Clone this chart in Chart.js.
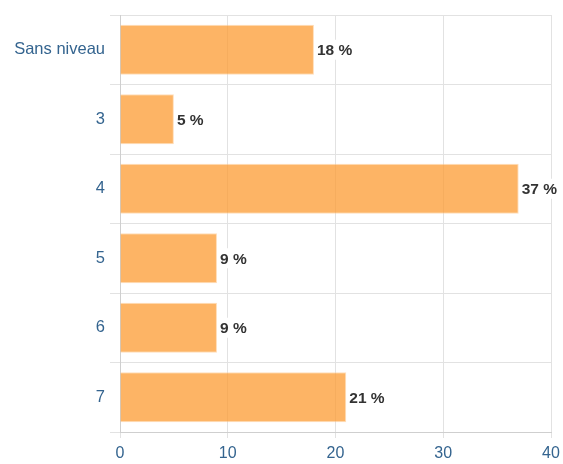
<!DOCTYPE html>
<html>
<head>
<meta charset="utf-8">
<script src="https://cdn.jsdelivr.net/npm/chart.js@4"></script>
<style>
  html, body { margin: 0; padding: 0; background: #fff; }
  #wrap { width: 563px; height: 464px; position: relative; }
</style>
</head>
<body>
<div id="wrap"><canvas id="myChart"></canvas></div>
<script>
const categories = ['Sans niveau', '3', '4', '5', '6', '7'];
const values = [18, 5, 37, 9, 9, 21];
const xTicks = [0, 10, 20, 30, 40];

// draws "NN %" labels at the end of each bar, on a white box
const barLabels = {
    id: 'barLabels',
    afterDatasetsDraw(chart) {
        const ctx = chart.ctx;
        const meta = chart.getDatasetMeta(0);
        ctx.save();
        ctx.font = 'bold 15.5px "Liberation Sans", Arial, sans-serif';
        ctx.textBaseline = 'middle';
        ctx.textAlign = 'left';
        meta.data.forEach((bar, i) => {
            const txt = values[i] + ' %';
            const w = ctx.measureText(txt).width;
            const x = bar.x + 3;
            ctx.fillStyle = '#fff';
            ctx.fillRect(x - 1, bar.y - 10, w + 2, 20);
            ctx.fillStyle = '#333';
            ctx.fillText(txt, x, bar.y + 1);
        });
        ctx.restore();
    }
};

const ctx = document.getElementById('myChart').getContext('2d');
const myChart = new Chart(ctx, {
    type: 'bar',
    data: {
        labels: categories,
        datasets: [{
            data: values,
            backgroundColor: 'rgba(252, 155, 50, 0.75)',
            borderColor: 'rgba(255, 200, 140, 0.6)',
            borderWidth: 1,
            barPercentage: 0.72,
            categoryPercentage: 1
        }]
    },
    options: {
        indexAxis: 'y',
        responsive: true,
        maintainAspectRatio: false,
        animation: false,
        layout: { padding: { top: 15, right: 12, left: 0, bottom: 0 } },
        plugins: {
            legend: { display: false },
            tooltip: { enabled: false }
        },
        scales: {
            x: {
                min: xTicks[0],
                max: xTicks[xTicks.length - 1],
                afterBuildTicks: (scale) => { scale.ticks = xTicks.map(v => ({ value: v })); },
                afterFit: (scale) => { scale.height = 32; scale.paddingRight = 0; },
                grid: { color: '#e2e2e2', tickLength: 6 },
                border: { color: '#cfcfcf' },
                ticks: {
                    color: '#34648f',
                    padding: 6,
                    font: { size: 16, family: '"Liberation Sans", Arial, sans-serif' }
                }
            },
            y: {
                afterFit: (scale) => { scale.width = 120; },
                grid: { color: '#e2e2e2', tickLength: 10 },
                border: { color: '#cfcfcf' },
                ticks: {
                    color: '#34648f',
                    padding: 5,
                    font: { size: 16.5, family: '"Liberation Sans", Arial, sans-serif' }
                }
            }
        }
    },
    plugins: [barLabels]
});
</script>
</body>
</html>
